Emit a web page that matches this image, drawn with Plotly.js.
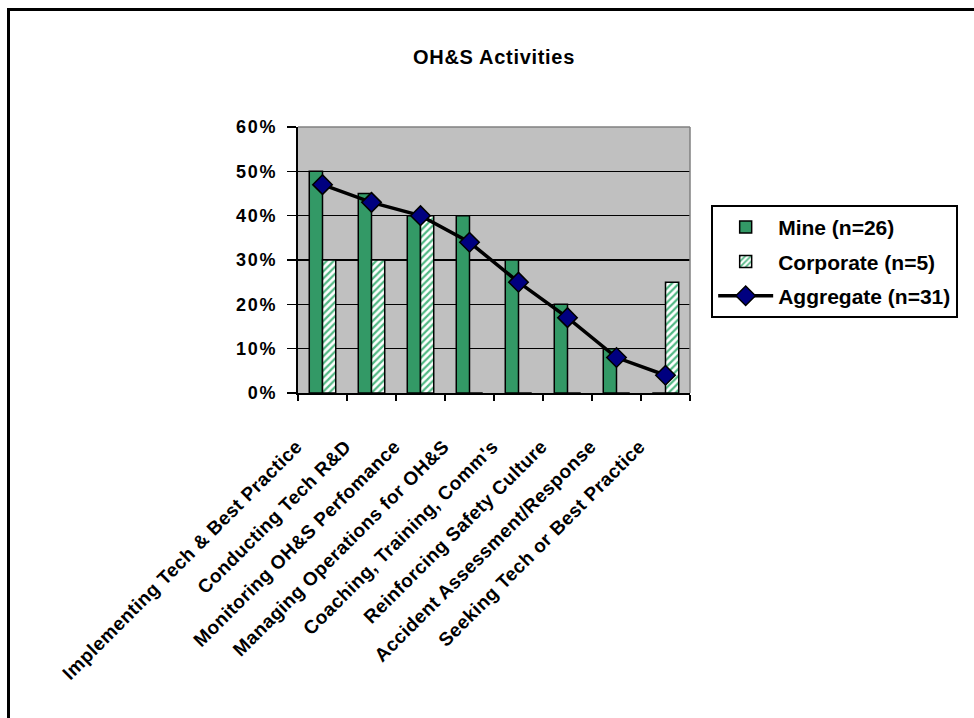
<!DOCTYPE html>
<html>
<head>
<meta charset="utf-8">
<script src="https://cdn.plot.ly/plotly-3.0.1.min.js"></script>
<style>
html,body{margin:0;padding:0;background:#fff;}
#wrap{position:relative;width:974px;height:718px;overflow:hidden;}
#frame{position:absolute;left:7px;top:8px;width:980px;height:720px;border-top:3px solid #000;border-left:3px solid #000;pointer-events:none;z-index:5;}
#chart{position:absolute;left:0;top:0;width:974px;height:718px;}
#chart .gtitle{letter-spacing:0.7px;}
#chart .ytick text{letter-spacing:1.8px;}
#chart .xtick text{letter-spacing:0.4px;}
</style>
</head>
<body>
<div id="wrap"><div id="chart"></div><div id="frame"></div></div>
<script>
const categories = [
  "Implementing Tech & Best Practice",
  "Conducting Tech R&D",
  "Monitoring OH&S Perfomance",
  "Managing Operations for OH&S",
  "Coaching, Training, Comm's",
  "Reinforcing Safety Culture",
  "Accident Assessment/Response",
  "Seeking Tech or Best Practice"
];
const mineValues = [0.50, 0.45, 0.40, 0.40, 0.30, 0.20, 0.10, 0.00];
const corporateValues = [0.30, 0.30, 0.40, 0.00, 0.00, 0.00, 0.00, 0.25];
const aggregateValues = [0.47, 0.43, 0.40, 0.34, 0.25, 0.17, 0.08, 0.04];
const yTickValues = [0, 0.1, 0.2, 0.3, 0.4, 0.5, 0.6];
const yTickLabels = ["0%", "10%", "20%", "30%", "40%", "50%", "60%"];

const FONT = "Arial, 'Liberation Sans', sans-serif";

const traces = [
  {
    type: 'bar', name: 'Mine (n=26)', x: categories, y: mineValues,
    legendgroup: 'a',
    marker: {color: '#339966', line: {color: '#000', width: 1.5}},
    hoverinfo: 'y'
  },
  {
    type: 'bar', name: 'Corporate (n=5)', x: categories, y: corporateValues,
    legendgroup: 'b',
    marker: {color: '#ffffff', line: {color: '#000', width: 1.5},
      pattern: {shape: '/', fgcolor: '#52b884', bgcolor: '#ffffff', size: 5, solidity: 0.45, fillmode: 'replace'}},
    hoverinfo: 'y'
  },
  {
    type: 'scatter', mode: 'lines+markers', name: 'Aggregate (n=31)', x: categories, y: aggregateValues,
    legendgroup: 'c',
    line: {color: '#000', width: 3.5},
    marker: {symbol: 'diamond', size: 15, color: '#000080', line: {color: '#000', width: 1.5}},
    hoverinfo: 'y'
  }
];

const layout = {
  width: 974, height: 718,
  margin: {l: 298, r: 284, t: 127, b: 325, pad: 0},
  paper_bgcolor: '#ffffff',
  plot_bgcolor: '#c0c0c0',
  font: {family: FONT, size: 14, color: '#000'},
  title: {
    text: '<b>OH&amp;S Activities</b>',
    font: {family: FONT, size: 20, color: '#000'},
    x: 0.5, xref: 'paper', xanchor: 'center',
    y: 1 - 57/718, yref: 'container', yanchor: 'middle'
  },
  barmode: 'group',
  bargap: 0.46,
  bargroupgap: 0,
  showlegend: true,
  legend: {
    x: 1.054, xanchor: 'left', y: 0.707, yanchor: 'top',
    bgcolor: '#ffffff', bordercolor: '#000', borderwidth: 2,
    font: {family: FONT, size: 21, color: '#000', weight: 'bold'},
    traceorder: 'grouped', tracegroupgap: 4,
    itemwidth: 55
  },
  xaxis: {
    type: 'category',
    range: [-0.5, 7.5],
    tickangle: -45,
    ticks: 'outside', ticklen: 6, tickwidth: 1.5, tickcolor: '#000',
    tickson: 'boundaries',
    showline: true, linecolor: '#000', linewidth: 2,
    showgrid: false,
    tickfont: {family: FONT, size: 19, color: '#000', weight: 'bold'},
    ticklabelshift: -26,
    ticklabelstandoff: 33,
    fixedrange: true
  },
  yaxis: {
    range: [0, 0.6],
    tickvals: yTickValues, ticktext: yTickLabels,
    ticks: 'outside', ticklen: 9, tickwidth: 1.5, tickcolor: '#000',
    ticklabelstandoff: 6,
    showline: true, linecolor: '#000', linewidth: 2,
    showgrid: true, gridcolor: '#000', gridwidth: 1.5,
    zeroline: false,
    tickfont: {family: FONT, size: 18, color: '#000', weight: 'bold'},
    fixedrange: true
  },
  shapes: [
    {type: 'line', xref: 'paper', yref: 'paper', x0: 0, x1: 1, y0: 1, y1: 1, line: {color: '#808080', width: 1.5}},
    {type: 'line', xref: 'paper', yref: 'paper', x0: 1, x1: 1, y0: 0, y1: 1, line: {color: '#808080', width: 1.5}}
  ]
};

Plotly.newPlot('chart', traces, layout, {displayModeBar: false, staticPlot: true});
</script>
</body>
</html>
